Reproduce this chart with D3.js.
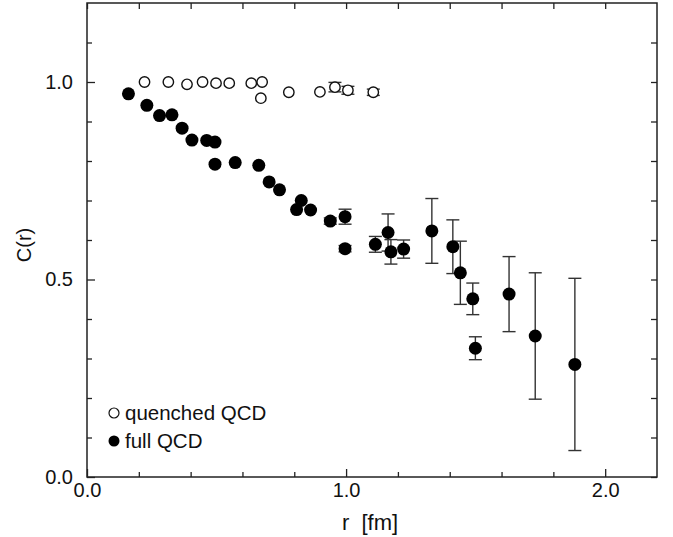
<!DOCTYPE html>
<html>
<head>
<meta charset="utf-8">
<script src="https://cdn.jsdelivr.net/npm/d3@7"></script>
<style>
  body { margin: 0; background: #fff; }
  svg { display: block; }
  text { font-family: "Liberation Sans", Arial, Helvetica, sans-serif; fill: #111; }
  .axis path { display: none; }
  .axis line { stroke: #222; stroke-width: 1.3; }
</style>
</head>
<body>
<div id="chart"></div>
<script>
// quenched QCD (open circles)
var quenchedR = [0.222, 0.314, 0.386, 0.446, 0.498, 0.549, 0.634, 0.676, 0.671, 0.779, 0.899, 0.957, 1.007, 1.105];
var quenchedC = [1.000, 1.000, 0.994, 1.000, 0.997, 0.997, 0.997, 1.000, 0.959, 0.974, 0.975, 0.987, 0.979, 0.974];
var quenchedErr = [0, 0, 0, 0, 0, 0, 0, 0, 0, 0, 0, 0.012, 0.010, 0.008];

// full QCD (filled circles)
var fullR = [0.160, 0.231, 0.280, 0.328, 0.367, 0.405, 0.462, 0.494, 0.494, 0.572, 0.663, 0.703, 0.743,
             0.809, 0.827, 0.863, 0.939, 0.996, 0.996, 1.113, 1.162, 1.173, 1.222, 1.331, 1.412, 1.441,
             1.489, 1.499, 1.629, 1.730, 1.883];
var fullC = [0.970, 0.941, 0.915, 0.917, 0.883, 0.853, 0.852, 0.848, 0.792, 0.796, 0.789, 0.747, 0.727,
             0.677, 0.700, 0.676, 0.648, 0.659, 0.578, 0.589, 0.619, 0.570, 0.577, 0.623, 0.583, 0.517,
             0.451, 0.326, 0.463, 0.357, 0.285];
var fullErr = [0, 0, 0, 0, 0, 0, 0, 0, 0, 0, 0, 0, 0,
               0, 0, 0, 0.008, 0.019, 0.008, 0.020, 0.047, 0.031, 0.023, 0.082, 0.068, 0.080,
               0.040, 0.029, 0.095, 0.160, 0.218];

var xMajor = [0.0, 1.0, 2.0];
var xMinor = [0.2, 0.4, 0.6, 0.8, 1.2, 1.4, 1.6, 1.8];
var yMajor = [0.0, 0.5, 1.0];
var yMinor = [0.1, 0.2, 0.3, 0.4, 0.6, 0.7, 0.8, 0.9, 1.1];

var legendLabels = ["quenched QCD", "full QCD"];

var width = 673, height = 537;
var margin = {top: 3, right: 16, bottom: 60, left: 87};

var quenched = quenchedR.map(function(r, i){ return {r: r, c: quenchedC[i], e: quenchedErr[i]}; });
var full = fullR.map(function(r, i){ return {r: r, c: fullC[i], e: fullErr[i]}; });

var svg = d3.select("#chart")
    .append("svg")
    .attr("width", width)
    .attr("height", height);

var xScale = d3.scaleLinear()
    .domain([0, 2.2])
    .range([margin.left, width - margin.right]);

var yScale = d3.scaleLinear()
    .domain([0, 1.2])
    .range([height - margin.bottom, margin.top]);

var fmt = d3.format(".1f");

// axes, ticks pointing inward on all four sides
svg.append("g")
    .attr("class", "axis")
    .attr("transform", `translate(0, ${yScale(0)})`)
    .call(d3.axisBottom(xScale).tickValues(xMajor).tickSize(-8).tickPadding(6).tickFormat(fmt))
    .selectAll("text").style("font-size", "20px");
svg.append("g")
    .attr("class", "axis")
    .attr("transform", `translate(0, ${yScale(0)})`)
    .call(d3.axisBottom(xScale).tickValues(xMinor).tickSize(-5).tickFormat(""));
svg.append("g")
    .attr("class", "axis")
    .attr("transform", `translate(0, ${yScale(1.2)})`)
    .call(d3.axisTop(xScale).tickValues(xMajor.concat(xMinor)).tickSize(-6).tickFormat(""));

svg.append("g")
    .attr("class", "axis")
    .attr("transform", `translate(${xScale(0)}, 0)`)
    .call(d3.axisLeft(yScale).tickValues(yMajor).tickSize(-8).tickPadding(14).tickFormat(fmt))
    .selectAll("text").style("font-size", "20px");
svg.append("g")
    .attr("class", "axis")
    .attr("transform", `translate(${xScale(0)}, 0)`)
    .call(d3.axisLeft(yScale).tickValues(yMinor).tickSize(-5).tickFormat(""));
svg.append("g")
    .attr("class", "axis")
    .attr("transform", `translate(${xScale(2.2)}, 0)`)
    .call(d3.axisRight(yScale).tickValues(yMajor.concat(yMinor)).tickSize(-6).tickFormat(""));

// frame
svg.append("rect")
    .attr("x", xScale(0))
    .attr("y", yScale(1.2))
    .attr("width", xScale(2.2) - xScale(0))
    .attr("height", yScale(0) - yScale(1.2))
    .attr("fill", "none")
    .attr("stroke", "#222")
    .attr("stroke-width", 1.5);

// axis titles
svg.append("text")
    .attr("x", 370)
    .attr("y", height - 7)
    .attr("text-anchor", "middle")
    .style("font-size", "22px")
    .style("white-space", "pre")
    .text("r  [fm]");

svg.append("text")
    .attr("transform", `translate(31, 245) rotate(-90)`)
    .attr("text-anchor", "middle")
    .style("font-size", "20px")
    .text("C(r)");

// error bars
function drawErrors(data) {
    var withErr = data.filter(function(d){ return d.e > 0; });
    var g = svg.append("g")
        .attr("stroke", "#333")
        .attr("stroke-width", 1.4);
    g.selectAll(".ev")
        .data(withErr)
        .enter().append("line")
        .attr("x1", function(d){ return xScale(d.r); })
        .attr("x2", function(d){ return xScale(d.r); })
        .attr("y1", function(d){ return yScale(d.c - d.e); })
        .attr("y2", function(d){ return yScale(d.c + d.e); });
    [-1, 1].forEach(function(s){
        g.selectAll(".cap" + s)
            .data(withErr)
            .enter().append("line")
            .attr("x1", function(d){ return xScale(d.r) - 6.5; })
            .attr("x2", function(d){ return xScale(d.r) + 6.5; })
            .attr("y1", function(d){ return yScale(d.c + s * d.e); })
            .attr("y2", function(d){ return yScale(d.c + s * d.e); });
    });
}
drawErrors(quenched);
drawErrors(full);

svg.append("g")
    .selectAll("circle")
    .data(quenched)
    .enter().append("circle")
    .attr("cx", function(d){ return xScale(d.r); })
    .attr("cy", function(d){ return yScale(d.c); })
    .attr("r", 5.2)
    .attr("fill", "#fff")
    .attr("stroke", "#111")
    .attr("stroke-width", 1.4);

svg.append("g")
    .selectAll("circle")
    .data(full)
    .enter().append("circle")
    .attr("cx", function(d){ return xScale(d.r); })
    .attr("cy", function(d){ return yScale(d.c); })
    .attr("r", 6.5)
    .attr("fill", "#000");

// legend
var legend = svg.append("g")
    .selectAll("g")
    .data(legendLabels)
    .enter().append("g")
    .attr("transform", function(d, i){ return `translate(114, ${413 + i * 28})`; });

legend.append("circle")
    .attr("r", function(d, i){ return i === 0 ? 5 : 5.5; })
    .attr("fill", function(d, i){ return i === 0 ? "#fff" : "#000"; })
    .attr("stroke", "#111")
    .attr("stroke-width", function(d, i){ return i === 0 ? 1.2 : 0; });

legend.append("text")
    .attr("x", 11)
    .attr("y", 7)
    .style("font-size", "20.5px")
    .text(function(d){ return d; });
</script>
</body>
</html>
